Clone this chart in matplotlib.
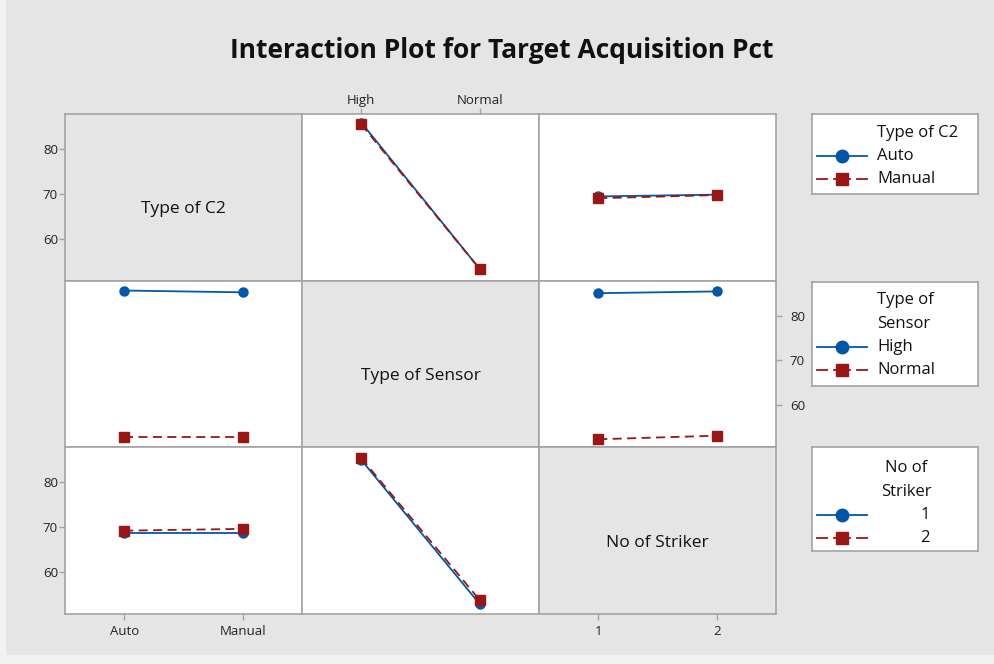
import numpy as np
import matplotlib.pyplot as plt
from matplotlib.patches import Rectangle

plt.rcParams['font.family'] = ['Open Sans', 'DejaVu Sans']

factors = ['Type of C2', 'Type of Sensor', 'No of Striker']
c2_levels = ['Auto', 'Manual']
sensor_levels = ['High', 'Normal']
striker_levels = ['1', '2']
levels = [c2_levels, sensor_levels, striker_levels]

# means, one list per trace level and panel
# trace = Type of C2
auto_by_sensor = [85.9, 53.2]
manual_by_sensor = [85.5, 53.2]
auto_by_striker = [69.4, 69.8]
manual_by_striker = [69.0, 69.7]
# trace = Type of Sensor
high_by_c2 = [85.6, 85.2]
normal_by_c2 = [53.0, 53.0]
high_by_striker = [85.0, 85.4]
normal_by_striker = [52.4, 53.2]
# trace = No of Striker
s1_by_c2 = [68.7, 68.7]
s2_by_c2 = [69.2, 69.6]
s1_by_sensor = [85.0, 52.8]
s2_by_sensor = [85.4, 53.7]

panels = {
    (0, 1): (auto_by_sensor, manual_by_sensor),
    (0, 2): (auto_by_striker, manual_by_striker),
    (1, 0): (high_by_c2, normal_by_c2),
    (1, 2): (high_by_striker, normal_by_striker),
    (2, 0): (s1_by_c2, s2_by_c2),
    (2, 1): (s1_by_sensor, s2_by_sensor),
}
yticks = [60, 70, 80]

BLUE = '#0456a8'
RED = '#981616'
EDGE = '#a3a3a3'
BG = '#e5e5e5'

W, H = 995, 664
fig = plt.figure(figsize=(W / 100, H / 100), dpi=100, facecolor='#f2f2f2')
fig.patches.append(Rectangle((6 / W, 9 / H), 1, 1, transform=fig.transFigure,
                             facecolor=BG, edgecolor='none', zorder=-10))

fig.text(502 / W, 1 - 50 / H, 'Interaction Plot for Target Acquisition Pct',
         ha='center', va='center', fontsize=19, fontweight='bold', color='#111111')

x0, x1, y0, y1 = 65, 776, 114, 614
pw = (x1 - x0) / 3
ph = (y1 - y0) / 3
x = np.arange(1, 3)

for i in range(3):
    for j in range(3):
        ax = fig.add_axes([(x0 + j * pw) / W, 1 - (y0 + (i + 1) * ph) / H, pw / W, ph / H])
        ax.set_xlim(0.5, 2.5)
        ax.set_ylim(50.6, 87.8)
        for s in ax.spines.values():
            s.set_color(EDGE)
            s.set_linewidth(1.2)
        ax.tick_params(which='both', length=4, width=1, color=EDGE,
                       labelsize=9.5, labelcolor='#222222',
                       bottom=False, left=False, top=False, right=False,
                       labelbottom=False, labelleft=False, labeltop=False, labelright=False)
        ax.set_xticks(x)
        ax.set_yticks(yticks)
        if i == j:
            ax.set_facecolor(BG)
            ax.text(0.5, 0.428, factors[i], transform=ax.transAxes, ha='center', va='center',
                    fontsize=12.5, color='#111111')
        else:
            ax.set_facecolor('white')
            first, second = panels[(i, j)]
            ax.plot(x, first, color=BLUE, lw=1.3, marker='o', ms=6.5, zorder=3)
            ax.plot(x, second, color=RED, lw=1.3, linestyle=(0, (5, 3)), marker='s', ms=6.5,
                    zorder=4)
        if i == 0 and j == 1:
            ax.set_xticklabels(sensor_levels)
            ax.tick_params(top=True, labeltop=True, pad=1)
        if i == 2 and j == 0:
            ax.set_xticklabels(c2_levels)
            ax.tick_params(axis='x', bottom=True, labelbottom=True, pad=4)
        if i == 2 and j == 2:
            ax.set_xticklabels(striker_levels)
            ax.tick_params(axis='x', bottom=True, labelbottom=True, pad=4)
        if j == 0 and i in (0, 2):
            ax.tick_params(axis='y', left=True, labelleft=True, pad=1)
        if j == 2 and i == 1:
            ax.tick_params(axis='y', right=True, labelright=True, pad=6)

# legend boxes, drawn in pixel coordinates
legends = [
    (114, 194, 18.5, ['Type of C2'], c2_levels, 'left'),
    (282, 386, 18.5, ['Type of', 'Sensor'], sensor_levels, 'left'),
    (447, 551, 21.5, ['No of', 'Striker'], striker_levels, 'center'),
]
lx0, lx1 = 812, 978
step = 23.3
for top, bot, first_y, title, labs, align in legends:
    lax = fig.add_axes([lx0 / W, 1 - bot / H, (lx1 - lx0) / W, (bot - top) / H])
    lax.set_xlim(lx0, lx1)
    lax.set_ylim(bot, top)
    lax.set_xticks([])
    lax.set_yticks([])
    lax.set_facecolor('white')
    for s in lax.spines.values():
        s.set_color(EDGE)
        s.set_linewidth(1.2)
    y = top + first_y
    for t in title:
        if align == 'left':
            lax.text(877, y, t, ha='left', va='center', fontsize=12, color='#111111')
        else:
            lax.text(906, y, t, ha='center', va='center', fontsize=12, color='#111111')
        y += step
    lax.plot([817, 867], [y, y], color=BLUE, lw=1.3)
    lax.plot([842], [y], color=BLUE, marker='o', ms=9)
    if align == 'left':
        lax.text(877, y, labs[0], ha='left', va='center', fontsize=12, color='#111111')
    else:
        lax.text(925, y, labs[0], ha='center', va='center', fontsize=12, color='#111111')
    y += step
    lax.plot([817, 827], [y, y], color=RED, lw=1.3)
    lax.plot([834, 850], [y, y], color=RED, lw=1.3)
    lax.plot([857, 867], [y, y], color=RED, lw=1.3)
    lax.plot([842], [y], color=RED, marker='s', ms=9)
    if align == 'left':
        lax.text(877, y, labs[1], ha='left', va='center', fontsize=12, color='#111111')
    else:
        lax.text(925, y, labs[1], ha='center', va='center', fontsize=12, color='#111111')

fig.savefig('out.png', dpi=100, facecolor=fig.get_facecolor())
